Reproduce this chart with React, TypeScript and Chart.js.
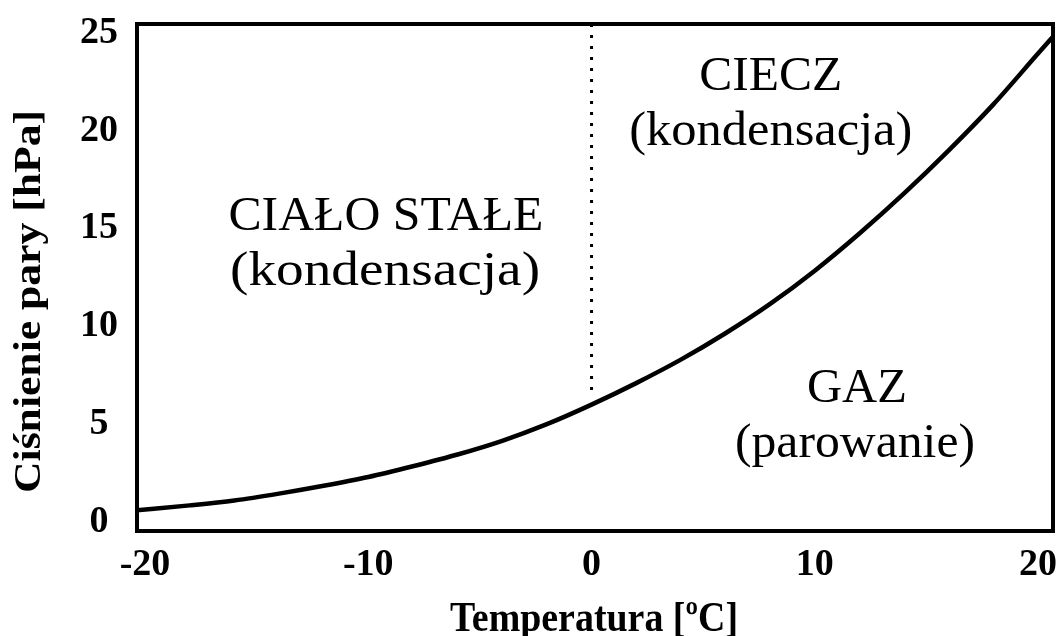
import React, { useEffect, useRef } from "react";
import { Chart, registerables } from "chart.js";

Chart.register(...registerables);

// ---- data ----
const temperatures = [-20.4, -18, -16, -14, -12, -10, -8, -6, -4, -2, 0, 2, 4, 6, 8, 10, 12, 14, 16, 18, 20, 20.7];
const pressures = [0.6, 0.85, 1.1, 1.45, 1.85, 2.3, 2.85, 3.45, 4.15, 5.0, 6.0, 7.1, 8.3, 9.65, 11.15, 12.85, 14.75, 16.8, 19.0, 21.35, 23.95, 24.85];
const meltLineX = [0, 0];
const meltLineY = [25.46, 6.5];
const xTickValues = [-20, -10, 0, 10, 20];
const yTickValues = [0, 5, 10, 15, 20, 25];
const regionTexts = ["CIAŁO STAŁE", "(kondensacja)", "CIECZ", "(kondensacja)", "GAZ", "(parowanie)"];
const regionTextX = [-9.21, -9.25, 8.03, 8.03, 11.89, 11.8];
const regionTextY = [14.93, 12.12, 22.09, 19.27, 6.13, 3.32];
const xTitle = "Temperatura [ºC]";
const yTitle = "Ciśnienie pary [hPa]";

// ---- layout / style ----
const regionTextWidths = [315, 310, 143, 283, 100, 240];
const SERIF = "'Liberation Serif', 'Times New Roman', serif";

function drawFitted(
  ctx: CanvasRenderingContext2D,
  text: string,
  x: number,
  y: number,
  font: string,
  width: number,
  rotate = 0
) {
  ctx.save();
  ctx.font = font;
  const w = ctx.measureText(text).width;
  ctx.translate(x, y);
  if (rotate) ctx.rotate(rotate);
  ctx.scale(width / w, 1);
  ctx.textAlign = "center";
  ctx.textBaseline = "alphabetic";
  ctx.fillStyle = "#000";
  ctx.fillText(text, 0, 0);
  ctx.restore();
}

const decorPlugin = {
  id: "decor",
  afterDatasetsDraw(chart: any) {
    const ctx: CanvasRenderingContext2D = chart.ctx;
    const { left, right, top, bottom } = chart.chartArea;
    const xs = chart.scales.x;
    const ys = chart.scales.y;
    ctx.save();
    ctx.strokeStyle = "#000";
    ctx.lineWidth = 4;
    ctx.strokeRect(left, top, right - left, bottom - top);
    ctx.restore();
    regionTexts.forEach((t, i) => {
      drawFitted(
        ctx,
        t,
        xs.getPixelForValue(regionTextX[i]),
        ys.getPixelForValue(regionTextY[i]),
        `normal 49px ${SERIF}`,
        regionTextWidths[i]
      );
    });
    drawFitted(ctx, xTitle, 594, 631, `bold 42px ${SERIF}`, 288);
    drawFitted(ctx, yTitle, 40, 301.5, `bold 38px ${SERIF}`, 383, -Math.PI / 2);
  },
};

const zeroPadding = (s: any) => {
  s.paddingTop = 0;
  s.paddingBottom = 0;
  s.paddingLeft = 0;
  s.paddingRight = 0;
};

export default function App() {
  const canvasRef = useRef<HTMLCanvasElement | null>(null);

  useEffect(() => {
    if (!canvasRef.current) return;
    const chart = new Chart(canvasRef.current, {
      type: "line",
      data: {
        datasets: [
          {
            label: "curve",
            data: temperatures.map((t, i) => ({ x: t, y: pressures[i] })),
            borderColor: "#000",
            borderWidth: 4.5,
            pointRadius: 0,
            cubicInterpolationMode: "monotone",
            fill: false,
          },
          {
            label: "melt",
            data: meltLineX.map((t, i) => ({ x: t, y: meltLineY[i] })),
            borderColor: "#000",
            borderWidth: 3,
            borderDash: [3, 8],
            pointRadius: 0,
            fill: false,
          },
        ],
      },
      options: {
        responsive: false,
        animation: false,
        devicePixelRatio: 1,
        layout: { padding: { left: 0, top: 24, right: 9, bottom: 0 } },
        plugins: {
          legend: { display: false },
          tooltip: { enabled: false },
          title: { display: false },
        },
        scales: {
          x: {
            type: "linear",
            min: -20.36,
            max: 20.67,
            grid: { display: false, drawTicks: false },
            border: { display: false },
            afterBuildTicks: (s: any) => {
              s.ticks = xTickValues.map((v) => ({ value: v }));
            },
            afterFit: (s: any) => {
              s.height = 105;
              zeroPadding(s);
            },
            ticks: {
              color: "#000",
              padding: 15,
              maxRotation: 0,
              autoSkip: false,
              font: { family: SERIF, size: 38, weight: "bold", lineHeight: 1 },
              callback: (v: any) => String(v),
            },
          },
          y: {
            type: "linear",
            min: -0.46,
            max: 25.46,
            grid: { display: false, drawTicks: false },
            border: { display: false },
            afterBuildTicks: (s: any) => {
              s.ticks = yTickValues.map((v) => ({ value: v }));
            },
            afterFit: (s: any) => {
              s.width = 137;
              zeroPadding(s);
            },
            ticks: {
              color: "#000",
              padding: 19,
              crossAlign: "center",
              autoSkip: false,
              font: { family: SERIF, size: 38, weight: "bold", lineHeight: 1 },
              callback: (v: any) => String(v),
            },
          },
        },
      },
      plugins: [decorPlugin],
    } as any);
    return () => chart.destroy();
  }, []);

  return (
    <div style={{ position: "absolute", left: 0, top: 0, width: 1062, height: 636, background: "#fff" }}>
      <canvas ref={canvasRef} width={1062} height={636} style={{ width: 1062, height: 636, display: "block" }} />
    </div>
  );
}
